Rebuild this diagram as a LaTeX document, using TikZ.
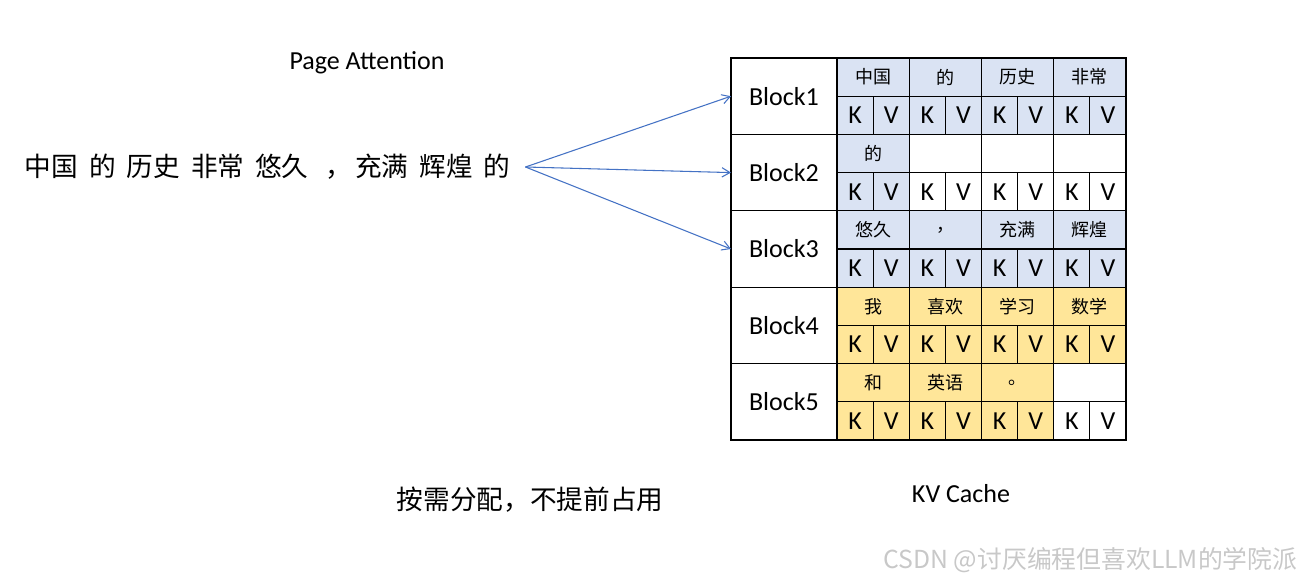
\documentclass[tikz,border=0pt]{standalone}
\usepackage{fontspec}
\setmainfont{Carlito}
\newfontfamily\cjk{Noto Sans CJK SC}
\usetikzlibrary{arrows.meta,positioning,calc}
\definecolor{kvblue}{RGB}{218,227,243}
\definecolor{kvyellow}{RGB}{255,230,153}
\definecolor{arrblue}{RGB}{68,114,196}
\definecolor{wmgray}{RGB}{200,200,200}
\newcommand{\gap}{\hspace{8.2pt}}
\tikzset{
  cell/.style={draw, line width=0.9pt, inner sep=0pt, outer sep=0pt, anchor=north west},
  blk/.style={cell, minimum width=79.5pt, minimum height=57.3pt, font=\fontsize{19.5}{20}\selectfont},
  tok/.style={cell, minimum width=54.19pt, minimum height=28.65pt, font=\cjk\fontsize{13.5}{14}\selectfont},
  kv/.style={cell, minimum width=27.09pt, minimum height=28.65pt, font=\fontsize{19.5}{20}\selectfont},
  arr/.style={-{Straight Barb[length=6pt, width=7pt]}, arrblue, line width=0.8pt},
}

\begin{document}
\begin{tikzpicture}[x=0.75pt, y=-0.75pt]
    \useasboundingbox (0,0) rectangle (1314,582);
    \node[font=\fontsize{19.5}{20}\selectfont] (title) at (367,63) {Page Attention};
    \node[font=\cjk\fontsize{20}{24}\selectfont, anchor=west, inner xsep=11pt] (sent) at (10,167)
      {中国\gap 的\gap 历史\gap 非常\gap 悠久\hspace{13pt}，\hspace{2pt}充满\gap 辉煌\gap 的};
    % blocks of the kv cache
    \foreach \r/\fc/\n/\toks in {1/kvblue/4/{中国,的,历史,非常},
                                 2/kvblue/1/{的,{},{},{}},
                                 3/kvblue/4/{悠久,，,充满,辉煌},
                                 4/kvyellow/4/{我,喜欢,学习,数学},
                                 5/kvyellow/3/{和,英语,。,{}}} {
      \node[blk] (b\r) at (731,{58+(\r-1)*76.4}) {Block\r};
      \foreach \t [count=\c] in \toks {
        \ifnum\c>\n \def\cc{white}\else\def\cc{\fc}\fi
        \node[tok, fill=\cc] (t\r\c) at ({837+(\c-1)*72.25},{58+(\r-1)*76.4}) {\t};
        \node[kv, fill=\cc] (k\r\c) at ({837+(\c-1)*72.25},{96.2+(\r-1)*76.4}) {K};
        \node[kv, fill=\cc] (v\r\c) at ({873.125+(\c-1)*72.25},{96.2+(\r-1)*76.4}) {V};
      }
    }
    \foreach \i in {1,2,3}
      \draw[arr] (sent.east) -- (b\i.west);
    \node[font=\cjk\fontsize{20}{24}\selectfont] (alloc) at (530,500) {按需分配，不提前占用};
    \node[font=\fontsize{19.5}{20}\selectfont] (cache) at (961,494) {KV Cache};
    \node[font=\cjk\fontsize{18.6}{20}\selectfont, text=wmgray, anchor=east] (wm) at (1302,560)
      {CSDN @讨厌编程但喜欢LLM的学院派};
  \end{tikzpicture}
\end{document}
